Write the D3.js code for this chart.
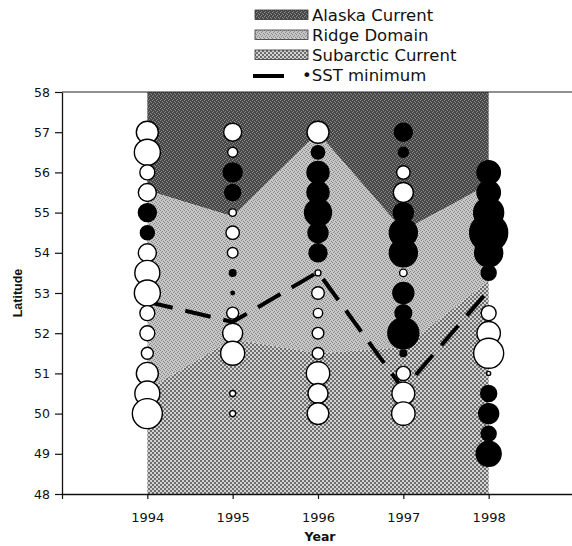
<!DOCTYPE html>
<html>
<head>
<meta charset="utf-8">
<script src="https://cdn.jsdelivr.net/npm/d3@7"></script>
<style>
  html, body { margin: 0; padding: 0; background: #fff; }
  svg { display: block; }
</style>
</head>
<body>
<svg id="chart" width="572" height="546"></svg>
<script>
// Survey years and water-mass boundaries (degrees N)
const years = [1994, 1995, 1996, 1997, 1998];
const alaskaCurrentEdge = [55.55, 54.9, 56.98, 54.55, 55.7];
const subarcticCurrentEdge = [50.6, 51.85, 51.5, 51.65, 53.3];
const sstMinimum = [52.78, 52.28, 53.52, 50.6, 53.07];

// Axis ticks
const latitudeTicks = [48, 49, 50, 51, 52, 53, 54, 55, 56, 57, 58];
const yearTicks = [1993, 1994, 1995, 1996, 1997, 1998, 1999];
const yearTickLabels = ["", "1994", "1995", "1996", "1997", "1998", ""];

// Stations per year: [latitude, catch index, dominant (1) / not dominant (0)]
const stations1994 = [
  [57, 121, 0], [56.5, 169, 0], [56, 56, 0], [55.5, 81, 0], [55, 81, 1],
  [54.5, 49, 1], [54, 81, 0], [53.5, 156, 0], [53, 169, 0], [52.5, 56, 0],
  [52, 56, 0], [51.5, 36, 0], [51, 121, 0], [50.5, 156, 0], [50, 225, 0]
];
const stations1995 = [
  [57, 81, 0], [56.5, 25, 0], [56, 90, 1], [55.5, 64, 1], [55, 14, 0],
  [54.5, 45, 0], [54, 28, 0], [53.5, 11, 1], [53, 3, 1], [52.5, 36, 0],
  [52, 100, 0], [51.5, 144, 0], [50.5, 9, 0], [50, 9, 0]
];
const stations1996 = [
  [57, 121, 0], [56.5, 45, 1], [56, 121, 1], [55.5, 121, 1], [55, 182, 1],
  [54.5, 100, 1], [54, 81, 1], [53.5, 9, 0], [53, 40, 0], [52.5, 22, 0],
  [52, 34, 0], [51.5, 34, 0], [51, 137, 0], [50.5, 100, 0], [50, 117, 0]
];
const stations1997 = [
  [57, 81, 1], [56.5, 25, 1], [56, 45, 0], [55.5, 100, 0], [55, 100, 1],
  [54.5, 196, 1], [54, 196, 1], [53.5, 14, 0], [53, 110, 1], [52.5, 70, 1],
  [52, 240, 1], [51.5, 11, 1], [51, 50, 0], [50.5, 130, 0], [50, 137, 0]
];
const stations1998 = [
  [56, 137, 1], [55.5, 137, 1], [55, 225, 1], [54.5, 361, 1], [54, 196, 1],
  [53.5, 56, 1], [52.5, 56, 0], [52, 137, 0], [51.5, 225, 0], [51, 4, 0],
  [50.5, 64, 1], [50, 100, 1], [49.5, 56, 1], [49, 156, 1]
];
const stationsByYear = [stations1994, stations1995, stations1996, stations1997, stations1998];

const legendLabels = ["Alaska Current", "Ridge Domain", "Subarctic Current", "SST minimum"];

const svg = d3.select("#chart");
const x = d3.scaleLinear().domain([1993, 1999]).range([62, 574]);
const y = d3.scaleLinear().domain([48, 58]).range([494, 92]);
const r = d3.scaleSqrt().domain([0, 361]).range([0, 19]);

// Fill textures
const defs = svg.append("defs");
function pixelPattern(id, base, dotColor, pixels) {
  const p = defs.append("pattern").attr("id", id)
    .attr("patternUnits", "userSpaceOnUse").attr("width", 4).attr("height", 4);
  p.append("rect").attr("width", 4).attr("height", 4).attr("fill", base);
  pixels.forEach(([px, py]) => p.append("rect")
    .attr("x", px).attr("y", py).attr("width", 1).attr("height", 1)
    .attr("fill", dotColor).attr("shape-rendering", "crispEdges"));
}
pixelPattern("alaska", "#484848", "#8a8a8a", [[0, 0], [2, 1], [1, 3], [3, 2]]);
pixelPattern("ridge", "#c6c6c6", "#888888", [[1, 0], [3, 1], [0, 2], [2, 3]]);
{
  const p = defs.append("pattern").attr("id", "subarctic")
    .attr("patternUnits", "userSpaceOnUse").attr("width", 4).attr("height", 4);
  p.append("rect").attr("width", 4).attr("height", 4).attr("fill", "#d2d2d2");
  [[1, 1], [3, 3]].forEach(([cx, cy]) => p.append("circle")
    .attr("cx", cx).attr("cy", cy).attr("r", 0.95).attr("fill", "#444"));
}

const bands = years.map((yr, i) => ({
  year: yr, ac: alaskaCurrentEdge[i], sa: subarcticCurrentEdge[i]
}));

const g = svg.append("g");
g.append("path").datum(bands).attr("fill", "url(#alaska)")
  .attr("d", d3.area().x(d => x(d.year)).y0(d => y(d.ac)).y1(() => y(58)));
g.append("path").datum(bands).attr("fill", "url(#ridge)")
  .attr("d", d3.area().x(d => x(d.year)).y0(d => y(d.sa)).y1(d => y(d.ac)));
g.append("path").datum(bands).attr("fill", "url(#subarctic)")
  .attr("d", d3.area().x(d => x(d.year)).y0(() => y(48)).y1(d => y(d.sa)));

// SST minimum track
g.append("path").datum(years.map((yr, i) => [yr, sstMinimum[i]]))
  .attr("fill", "none").attr("stroke", "#000").attr("stroke-width", 4)
  .attr("stroke-dasharray", "26,13")
  .attr("d", d3.line().x(d => x(d[0])).y(d => y(d[1])));

// Station circles
stationsByYear.forEach((list, i) => {
  g.append("g").selectAll("circle").data(list).join("circle")
    .attr("cx", x(years[i])).attr("cy", d => y(d[0]))
    .attr("r", d => r(d[1]))
    .attr("fill", d => d[2] ? "#000" : "#fff")
    .attr("stroke", "#000").attr("stroke-width", 1.4);
});

// Frame top edge
svg.append("line").attr("x1", x(1993)).attr("x2", 572)
  .attr("y1", y(58)).attr("y2", y(58))
  .attr("stroke", "#222").attr("stroke-width", 1.2);

// Axes
const yAxis = svg.append("g").attr("transform", `translate(${x(1993)},0)`)
  .call(d3.axisLeft(y).tickValues(latitudeTicks).tickFormat(d3.format("d"))
    .tickSize(7).tickPadding(5).tickSizeOuter(0));
yAxis.selectAll("text").attr("font-family", "DejaVu Sans").attr("font-size", 12.5).attr("fill", "#111");
yAxis.select(".domain").attr("stroke", "#111").attr("stroke-width", 1.3);
yAxis.selectAll(".tick line").attr("stroke", "#111").attr("stroke-width", 1.2);

const xAxis = svg.append("g").attr("transform", `translate(0,${y(48)})`)
  .call(d3.axisBottom(x).tickValues(yearTicks).tickFormat((d, i) => yearTickLabels[i])
    .tickSize(5).tickPadding(14).tickSizeOuter(0));
xAxis.selectAll("text").attr("font-family", "DejaVu Sans").attr("font-size", 13).attr("fill", "#111");
xAxis.select(".domain").attr("stroke", "#111").attr("stroke-width", 1.5);
xAxis.selectAll(".tick line").attr("stroke", "#111").attr("stroke-width", 1.2);

svg.append("text").attr("x", 320).attr("y", 541).attr("text-anchor", "middle")
  .attr("font-family", "DejaVu Sans").attr("font-weight", "bold").attr("font-size", 12.5)
  .attr("fill", "#111").text("Year");
svg.append("text").attr("transform", `translate(22,${(y(48) + y(58)) / 2}) rotate(-90)`)
  .attr("text-anchor", "middle")
  .attr("font-family", "Liberation Sans").attr("font-weight", "bold").attr("font-size", 12.5)
  .attr("fill", "#111").text("Latitude");

// Legend
const legend = svg.append("g").attr("font-family", "DejaVu Sans").attr("font-size", 16.5).attr("fill", "#111");
["alaska", "ridge", "subarctic"].forEach((pid, i) => {
  legend.append("rect").attr("x", 255).attr("y", 10 + i * 20).attr("width", 53).attr("height", 9.5)
    .attr("fill", `url(#${pid})`).attr("stroke", "#333").attr("stroke-width", 0.8);
  legend.append("text").attr("x", 312).attr("y", 21 + i * 20).text(legendLabels[i]);
});
legend.append("line").attr("x1", 253).attr("x2", 284).attr("y1", 76).attr("y2", 76)
  .attr("stroke", "#000").attr("stroke-width", 4);
legend.append("text").attr("x", 302).attr("y", 81).text("\u2022" + legendLabels[3]);
</script>
</body>
</html>
